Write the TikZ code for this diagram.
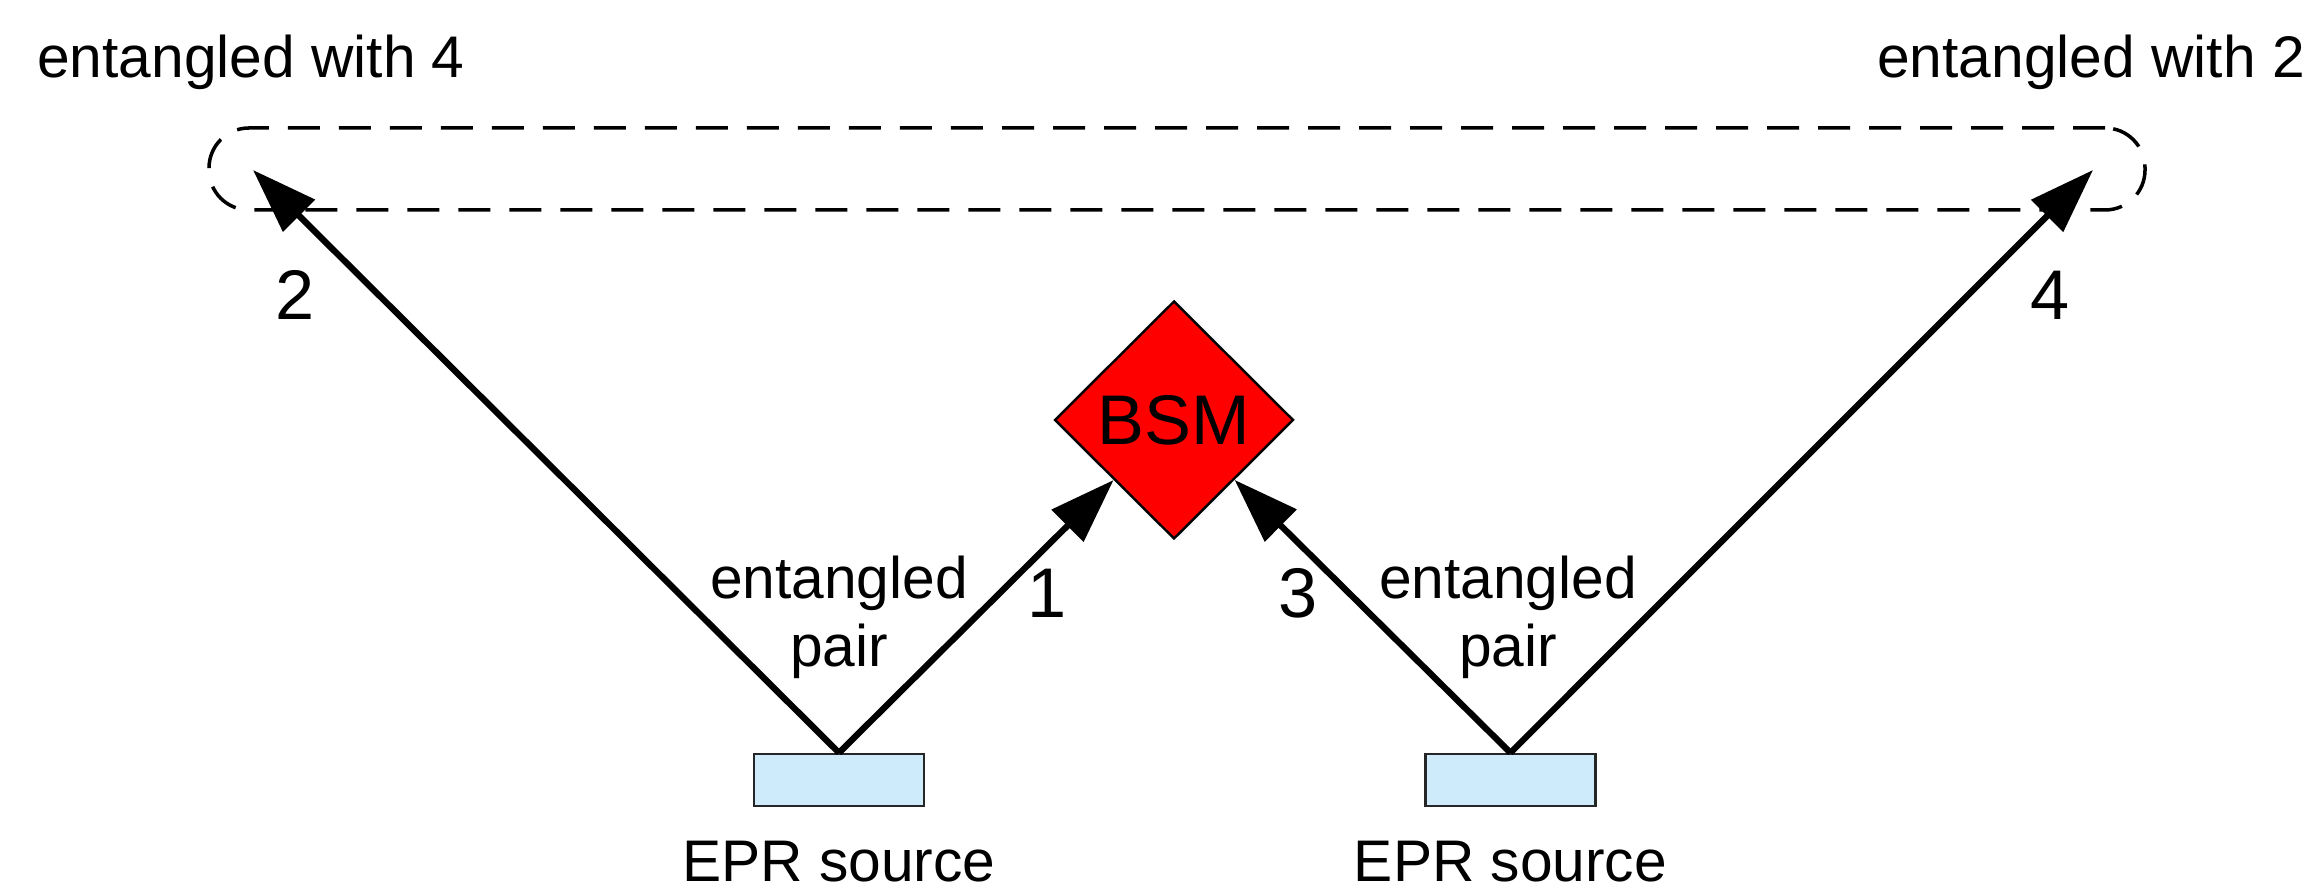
\documentclass[tikz,border=0pt]{standalone}
\usepackage{fontspec}
\setmainfont{Liberation Sans}
\definecolor{SrcBlue}{RGB}{206, 235, 252}
\definecolor{BSMRed}{RGB}{255, 0, 0}
\usepackage{tikz}
\usetikzlibrary{arrows.meta, positioning, shapes.geometric}
\tikzset{
  source/.style={
    rectangle, draw=black!85, fill=SrcBlue, line width=0.7pt,
    minimum width=1.70cm, minimum height=0.52cm, inner sep=0pt
  },
  bsmbox/.style={
    diamond, draw=black, fill=BSMRed, line width=0.7pt, aspect=1,
    minimum width=2.39cm, minimum height=2.38cm, inner sep=0pt,
    font=\fontsize{20}{24}\selectfont
  },
  pairbox/.style={
    rectangle, draw=black, dash pattern=on 0.32cm off 0.19cm,
    rounded corners=0.4cm, line width=1pt,
    minimum width=19.36cm, minimum height=0.82cm
  },
  photon/.style={line width=1.8pt, -{Triangle[length=0.65cm, width=0.44cm]}},
  lbl/.style={font=\fontsize{16.7}{19.3}\selectfont, align=center, inner sep=0pt},
  num/.style={font=\fontsize{20}{24}\selectfont, inner sep=0pt},
}

\begin{document}
\begin{tikzpicture}
\useasboundingbox (0,0) rectangle (23.13,8.90);

% sources and Bell-state measurement
\node[source] (src1) at (8.39,1.10) {};
\node[source, right=4.99cm of src1] (src2) {};
\node[bsmbox] (bsm) at (11.74,4.70) {BSM};
\node[pairbox] (pair) at (11.77,7.21) {};

\node[lbl, below=0.33cm of src1] (epr1) {EPR source};
\node[lbl, below=0.33cm of src2] (epr2) {EPR source};
\node[lbl] (ent1) at (8.39,2.73) {entangled\\pair};
\node[lbl] (ent2) at (15.08,2.73) {entangled\\pair};

% far ends
\coordinate (farL) at (2.53,7.20);
\coordinate (farR) at (20.93,7.20);
\node[lbl] (with4) at (2.51,8.28) {entangled with 4};
\node[lbl] (with2) at (20.91,8.28) {entangled with 2};

% photons
\draw[photon] (src1.north) -- (farL);
\draw[photon] (src1.north) -- (bsm);
\draw[photon] (src2.north) -- (bsm);
\draw[photon] (src2.north) -- (farR);

\node[num] (n1) at (10.47,2.97) {1};
\node[num] (n2) at (2.95,5.95) {2};
\node[num] (n3) at (12.98,2.97) {3};
\node[num] (n4) at (20.50,5.95) {4};
\end{tikzpicture}
\end{document}
